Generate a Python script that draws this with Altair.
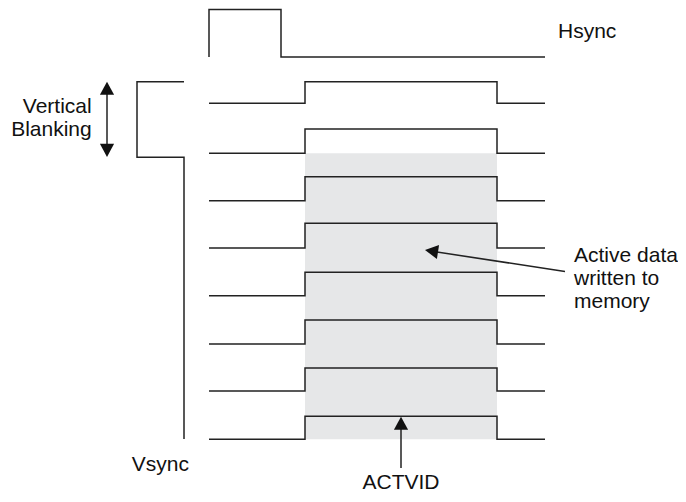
import altair as alt
import pandas as pd

# Timing positions (image-like units)
t_start, t_rise, t_fall, t_end = 209, 305, 497, 545
row_low = [103.3, 153.3, 200.7, 248, 295.7, 344, 391, 439.3]
row_high = [81.7, 129, 176.7, 223.3, 272.3, 320, 368, 416.3]

hsync_x = [209, 209, 281, 281, 545]
hsync_y = [57, 9.5, 9.5, 57, 57]
vsync_x = [184, 137, 137, 184, 184]
vsync_y = [81.7, 81.7, 157.3, 157.3, 439]

shade_x = [t_rise, t_fall]
shade_y = [153.3, 439.3]

labels = ["Hsync", "Vsync", "Vertical\nBlanking", "Active data\nwritten to\nmemory", "ACTVID"]
label_x = [558, 131.7, 91.7, 574, 401]
label_y = [38.3, 471, 113.3, 261.7, 489]
label_align = ["left", "left", "right", "left", "center"]

# arrows: shaft (x, y, x2, y2), heads (tip x, tip y, angle)
shaft_x = [107, 401, 565]
shaft_y = [94, 429, 271.5]
shaft_x2 = [107, 401, 437]
shaft_y2 = [144, 468, 252]
head_x = [107, 107, 401, 425]
head_y = [81.7, 157, 416.7, 250]
head_angle = [0, 180, 0, 278.7]

rows = []
def add_path(name, xs, ys):
    for i, (x, y) in enumerate(zip(xs, ys)):
        rows.append({"s": name, "o": i, "x": x, "y": y})

add_path("hsync", hsync_x, hsync_y)
add_path("vsync", vsync_x, vsync_y)
for k, (lo, hi) in enumerate(zip(row_low, row_high)):
    add_path(f"row{k}", [t_start, t_rise, t_rise, t_fall, t_fall, t_end],
             [lo, lo, hi, hi, lo, lo])
paths = pd.DataFrame(rows)

X = alt.Scale(domain=[8, 678], nice=False, zero=False)
Y = alt.Scale(domain=[8, 494], nice=False, zero=False, reverse=True)

shade = alt.Chart(pd.DataFrame({"x": [shade_x[0]], "x2": [shade_x[1]],
                                "y": [shade_y[0]], "y2": [shade_y[1]]})).mark_rect(
    color="#e6e7e8").encode(
    x=alt.X("x:Q", scale=X, axis=None), x2="x2:Q",
    y=alt.Y("y:Q", scale=Y, axis=None), y2="y2:Q")

lines = alt.Chart(paths).mark_line(color="#222222", strokeWidth=1.5, interpolate="linear").encode(
    x=alt.X("x:Q", scale=X, axis=None),
    y=alt.Y("y:Q", scale=Y, axis=None),
    detail="s:N", order="o:Q")

shafts = alt.Chart(pd.DataFrame({"x": shaft_x, "y": shaft_y, "x2": shaft_x2, "y2": shaft_y2})).mark_rule(
    color="#222222", strokeWidth=1.5).encode(
    x=alt.X("x:Q", scale=X, axis=None), y=alt.Y("y:Q", scale=Y, axis=None),
    x2="x2:Q", y2="y2:Q")

heads = alt.Chart(pd.DataFrame({"x": head_x, "y": head_y, "a": head_angle})).mark_point(
    shape="M0,0 L-0.54,1 L0.54,1 Z", filled=True, color="#111111", size=690, opacity=1).encode(
    x=alt.X("x:Q", scale=X, axis=None), y=alt.Y("y:Q", scale=Y, axis=None),
    angle=alt.Angle("a:Q", scale=None))

text_layers = []
for t, x, y, a in zip(labels, label_x, label_y, label_align):
    text_layers.append(
        alt.Chart(pd.DataFrame({"t": [t], "x": [x], "y": [y]})).mark_text(
            align=a, baseline="alphabetic", font="Liberation Sans", fontSize=21,
            lineBreak="\n", lineHeight=23, color="#111111").encode(
            x=alt.X("x:Q", scale=X, axis=None), y=alt.Y("y:Q", scale=Y, axis=None),
            text="t:N"))

chart = alt.layer(shade, lines, shafts, heads, *text_layers).properties(
    width=670, height=486, autosize=alt.AutoSizeParams(type="none"), padding=0
).configure_view(stroke=None)

chart.save("out.html", embed_options={"renderer": "svg", "actions": False})
